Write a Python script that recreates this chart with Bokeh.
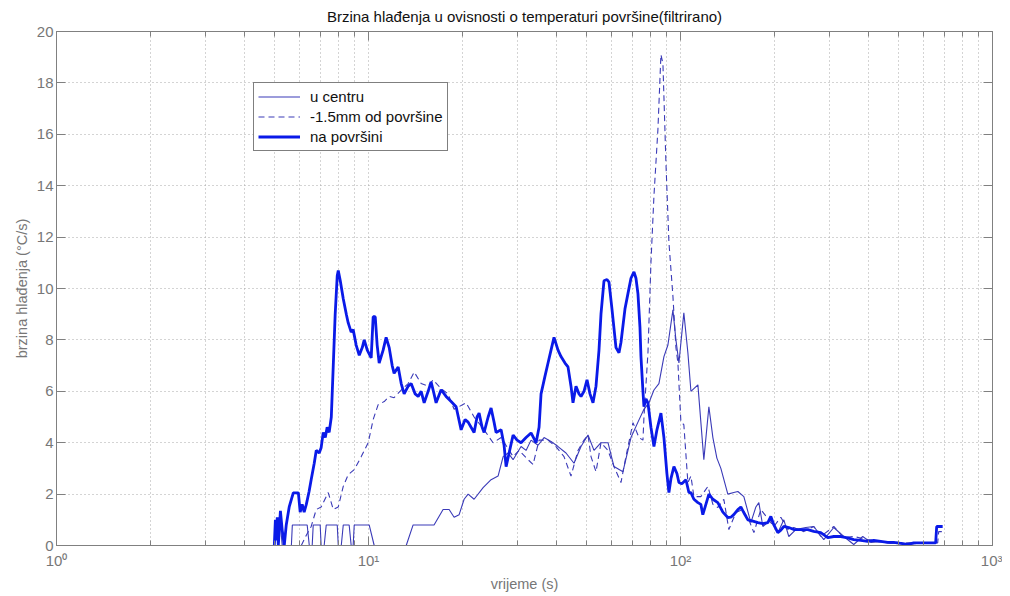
from bokeh.plotting import figure
from bokeh.models import LinearAxis, LogAxis, FixedTicker, Legend, LegendItem, Range1d
from bokeh.embed import file_html
from bokeh.resources import INLINE

title_text = "Brzina hlađenja u ovisnosti o temperaturi površine(filtrirano)"
x_label = "vrijeme (s)"
y_label = "brzina hlađenja (°C/s)"
names = ["u centru", "-1.5mm od površine", "na površini"]

x_major = [1, 10, 100, 1000]
x_major_labels = ["10⁰", "10¹", "10²", "10³"]
x_minor = [2, 3, 4, 5, 6, 7, 8, 9, 20, 30, 40, 50, 60, 70, 80, 90,
           200, 300, 400, 500, 600, 700, 800, 900]
y_ticks = [0, 2, 4, 6, 8, 10, 12, 14, 16, 18, 20]

# u centru (thin solid)
t_centar = [4.99, 5.07, 5.22, 5.29, 5.66, 5.70, 6.36, 6.46, 6.60, 6.65, 7.00, 7.05,
            7.21, 7.32, 7.94, 8.00, 8.18, 8.30, 8.67, 8.80, 8.93, 9.00, 10.05, 10.43,
            13.21, 13.90, 16.22, 17.34, 18.13, 18.81, 19.52, 20.25, 20.86, 21.80, 23.30,
            24.71, 26.02, 27.01, 28.02, 29.07, 30.83, 31.99, 33.19, 34.95, 36.53, 38.46,
            40.50, 42.95, 45.57, 47.99, 50.53, 52.82, 55.61, 58.56, 61.21, 65.40, 69.38,
            73.05, 76.36, 79.22, 82.20, 85.28, 88.49, 91.13, 94.56, 96.68, 98.84, 102.5,
            105.6, 108.0, 113.7, 118.8, 123.3, 127.0, 130.8, 134.7, 141.8, 148.2, 152.7,
            159.6, 168.1, 174.4, 178.3, 183.6, 194.8, 205.1, 214.4, 222.4, 234.2, 252.1,
            267.4, 287.9, 310.0, 333.6, 359.2, 383.8, 407.2, 438.3, 471.8, 507.9, 546.8,
            588.7, 647.9]
v_centar = [0, 0.8, 0.8, 0, 0, 0.8, 0.8, 0, 0, 0.8, 0.8, 0,
            0, 0.8, 0.8, 0, 0, 0.8, 0.8, 0, 0, 0.8, 0.8, 0,
            0, 0.8, 0.8, 1.4, 1.4, 1.1, 1.2, 1.8, 2.0, 1.8, 2.25,
            2.56, 2.7, 3.46, 3.6, 3.34, 3.85, 3.7, 4.1, 3.9, 4.2, 4.05,
            3.85, 3.6, 3.2, 3.85, 4.3, 3.7, 4.0, 4.0, 3.07, 2.87, 4.2,
            4.8, 5.3, 5.55, 6.05, 6.3, 7.35, 7.8, 9.17, 8.0, 7.1, 9.05,
            7.5, 6.0, 6.25, 3.34, 5.4, 4.2, 3.4, 3.0, 2.0, 2.06, 2.1,
            1.9, 0.89, 1.5, 1.67, 0.74, 1.0, 0.5, 1.0, 0.35, 0.62, 0.7,
            0.74, 0.23, 0.7, 0.35, 0.04, 0.35, 0.12, 0.15, 0.08, 0.1, 0.05,
            0.1, 0.08]

# -1.5mm od površine (dashed)
t_15mm = [6.09, 6.32, 6.55, 6.80, 7.05, 7.43, 7.71, 8.00, 8.30, 8.61, 9.00, 9.48, 9.98,
          10.35, 10.74, 11.23, 11.65, 12.08, 12.73, 13.40, 14.01, 14.75, 15.53, 16.11,
          17.09, 17.99, 18.81, 20.55, 21.80, 23.47, 25.08, 26.61, 29.07, 30.38, 32.46,
          33.68, 35.21, 37.62, 39.90, 42.33, 44.57, 46.93, 49.06, 50.53, 51.66, 53.60,
          55.61, 58.56, 61.21, 64.44, 66.86, 70.41, 73.60, 75.80, 76.36, 78.65, 80.40,
          82.20, 84.66, 86.55, 87.84, 89.80, 91.81, 94.56, 96.68, 98.11, 100.3, 102.5,
          105.6, 108.0, 110.4, 116.2, 122.4, 127.0, 131.7, 137.7, 142.9, 150.4, 158.4,
          165.6, 171.9, 180.9, 191.9, 199.2, 209.7, 220.8, 230.7, 248.4, 267.4, 281.6,
          310.0, 333.6, 359.2, 398.2, 438.3, 496.8, 559.0, 633.7, 667.3, 672.2, 692.3]
v_15mm = [0, 0.4, 0.74, 1.4, 1.5, 2.06, 1.4, 1.5, 2.3, 2.76, 2.95, 3.46, 4.0,
          4.9, 5.48, 5.6, 5.8, 5.75, 6.05, 6.3, 6.75, 6.3, 6.2, 6.45,
          6.1, 5.9, 5.3, 5.55, 5.0, 4.5, 4.0, 4.2, 3.46, 3.7, 3.34,
          3.15, 4.1, 4.1, 3.85, 3.46, 2.7, 3.7, 4.1, 4.3, 3.46, 2.87,
          4.0, 3.7, 3.07, 2.45, 3.46, 4.78, 4.2, 4.1, 5.0, 7.5, 11.0,
          13.6, 16.2, 19.1, 18.75, 14.9, 11.8, 9.7, 7.7, 7.1, 4.8, 4.7,
          2.45, 2.7, 1.9, 1.9, 2.3, 1.6, 1.48, 1.8, 0.62, 1.28, 1.4,
          1.0, 0.5, 1.4, 1.0, 0.74, 1.1, 0.62, 0.7, 0.54, 0.74, 0.35,
          0.74, 0.31, 0.35, 0.23, 0.16, 0.12, 0.1, 0.1, 0.1, 0.54, 0.54]

# na površini (thick solid)
t_povrs = [4.99, 5.03, 5.07, 5.10, 5.14, 5.22, 5.29, 5.37, 5.45, 5.57, 5.74, 5.96, 6.04,
           6.13, 6.22, 6.32, 6.45, 6.55, 6.70, 6.80, 6.95, 7.05, 7.16, 7.27, 7.37, 7.48,
           7.60, 7.71, 7.82, 7.94, 8.00, 8.12, 8.30, 8.49, 8.61, 8.80, 8.93, 9.13, 9.34,
           9.55, 9.69, 9.91, 10.20, 10.35, 10.51, 10.66, 10.82, 11.14, 11.39, 11.65, 11.91,
           12.08, 12.45, 12.73, 13.01, 13.40, 13.70, 14.11, 14.43, 14.75, 15.08, 15.53,
           15.87, 16.22, 16.47, 17.09, 17.73, 18.40, 19.09, 19.81, 20.40, 20.86, 21.32,
           21.80, 22.28, 22.62, 23.13, 23.47, 24.18, 24.71, 25.26, 25.64, 26.61, 27.20,
           27.61, 28.23, 29.07, 29.94, 30.83, 31.99, 33.19, 34.44, 35.21, 35.73, 36.80,
           37.62, 38.46, 39.32, 40.50, 41.40, 42.64, 43.59, 44.57, 45.23, 46.24, 47.28,
           47.99, 49.06, 50.16, 51.28, 52.43, 53.60, 54.80, 55.61, 56.85, 58.13, 58.99,
           60.31, 62.12, 63.51, 64.44, 66.37, 67.85, 69.38, 70.93, 71.99, 73.05, 74.14,
           74.69, 75.80, 76.36, 77.49, 78.65, 80.40, 82.20, 84.04, 86.55, 88.49, 90.46,
           91.81, 93.18, 95.26, 97.39, 98.84, 101.0, 104.1, 106.4, 108.0, 110.4, 113.7,
           116.2, 117.9, 120.6, 123.3, 127.0, 131.7, 136.7, 141.8, 145.0, 148.2, 152.7,
           156.1, 160.8, 164.4, 170.6, 177.0, 183.6, 190.5, 194.8, 199.2, 205.1, 209.7,
           214.4, 222.4, 230.7, 243.0, 255.9, 267.4, 281.6, 296.5, 310.0, 326.3, 343.6,
           359.2, 378.2, 398.2, 416.3, 438.3, 461.5, 482.3, 507.9, 534.8, 559.0, 588.7,
           619.9, 647.9, 657.5, 662.4, 692.3]
v_povrs = [0, 1.0, 0.2, 1.1, 0, 1.35, 0.6, 0, 0.8, 1.5, 2.05, 2.05, 1.3,
           1.6, 1.3, 1.6, 2.1, 2.56, 3.2, 3.7, 3.6, 3.8, 4.4, 4.2, 4.6, 4.4,
           5.0, 7.0, 9.0, 10.5, 10.7, 10.3, 9.6, 9.0, 8.66, 8.3, 8.4, 7.8, 7.4,
           7.7, 8.0, 7.6, 7.3, 8.9, 8.9, 7.8, 7.1, 7.6, 8.1, 7.7, 7.0,
           6.7, 6.95, 6.3, 5.9, 6.2, 6.3, 5.9, 5.8, 6.0, 5.55, 6.0,
           6.37, 5.9, 5.55, 6.06, 5.8, 5.6, 5.4, 4.5, 4.9, 4.8, 4.6,
           4.4, 5.0, 5.15, 4.6, 4.4, 5.0, 5.35, 4.8, 4.4, 4.5, 3.9,
           3.07, 3.6, 4.3, 4.1, 4.0, 4.2, 4.38, 4.0, 4.6, 5.9, 6.6,
           7.1, 7.6, 8.1, 7.6, 7.35, 7.1, 6.95, 6.2, 5.55, 6.2, 5.9,
           5.8, 6.0, 6.45, 5.9, 5.55, 6.2, 7.6, 9.0, 10.3, 10.35, 10.25,
           9.2, 7.7, 7.5, 7.9, 9.2, 9.8, 10.4, 10.65, 10.4, 9.8, 8.5,
           7.35, 6.0, 5.4, 5.7, 5.55, 4.6, 3.85, 4.5, 5.15, 4.2, 2.8,
           2.06, 2.6, 3.07, 2.8, 2.45, 2.4, 2.56, 2.06, 2.06, 1.8, 1.67,
           1.6, 1.2, 1.6, 2.0, 1.8, 1.67, 1.3, 1.09, 1.1, 1.2, 1.4,
           1.5, 1.2, 1.0, 0.95, 0.89, 0.85, 0.89, 1.13, 0.8, 0.5, 0.6,
           0.74, 0.7, 0.62, 0.62, 0.62, 0.55, 0.5, 0.31, 0.35, 0.35, 0.3,
           0.23, 0.2, 0.16, 0.2, 0.16, 0.12, 0.12, 0.08, 0.04, 0.1, 0.1,
           0.1, 0.1, 0.1, 0.74, 0.74]

FONT = "Liberation Sans"
GRID = "#a8a8a8"
AXIS = "#808080"
TEXT = "#777777"

p = figure(width=1002, height=594, x_axis_type="log",
           x_range=Range1d(1, 1000), y_range=Range1d(0, 20),
           output_backend="svg", toolbar_location=None,
           min_border_left=56, min_border_right=10,
           min_border_top=31, min_border_bottom=48,
           background_fill_color="white", border_fill_color="white")

p.title.text = title_text
p.title.align = "center"
p.title.vertical_align = "top"
p.title.text_font = FONT
p.title.text_font_size = "15px"
p.title.text_font_style = "normal"
p.title.text_color = "#111111"
p.title.standoff = 10
p.title.offset = 0

p.outline_line_color = AXIS
p.outline_line_width = 1

xt = FixedTicker(ticks=x_major, minor_ticks=x_minor)
yt = FixedTicker(ticks=y_ticks)

def style_axis(ax, labels=True):
    ax.axis_line_color = AXIS
    ax.major_tick_line_color = AXIS
    ax.minor_tick_line_color = AXIS
    ax.major_tick_in = 9
    ax.major_tick_out = 0
    ax.minor_tick_in = 5
    ax.minor_tick_out = 0
    ax.major_label_text_font = FONT
    ax.major_label_text_color = TEXT
    ax.axis_label_text_font = FONT
    ax.axis_label_text_color = TEXT
    ax.axis_label_text_font_style = "normal"
    ax.axis_label_text_font_size = "14.5px"
    if labels:
        ax.major_label_text_font_size = "15px"
        ax.major_label_standoff = 4
    else:
        ax.major_label_text_font_size = "0px"
        ax.major_label_standoff = 0

xa = p.xaxis[0]
xa.ticker = xt
xa.major_label_overrides = {v: s for v, s in zip(x_major, x_major_labels)}
xa.axis_label = x_label
xa.axis_label_standoff = 4
style_axis(xa)
xa.major_label_standoff = 6

ya = p.yaxis[0]
ya.ticker = yt
ya.axis_label = y_label
ya.axis_label_standoff = 4
style_axis(ya)
ya.minor_tick_line_color = None
ya.major_label_standoff = 3

top = LogAxis(ticker=xt)
style_axis(top, labels=False)
top.major_label_overrides = {v: "" for v in x_major}
p.add_layout(top, "above")

right = LinearAxis(ticker=yt)
style_axis(right, labels=False)
right.minor_tick_line_color = None
right.major_label_overrides = {v: "" for v in y_ticks}
p.add_layout(right, "right")

p.xgrid.grid_line_color = GRID
p.xgrid.grid_line_dash = "1 3"
p.xgrid.minor_grid_line_color = GRID
p.xgrid.minor_grid_line_dash = "1 3"
p.ygrid.grid_line_color = GRID
p.ygrid.grid_line_dash = "1 3"

r1 = p.line(t_centar, v_centar, line_color="#3a3ab8", line_width=1.1)
r2 = p.line(t_15mm, v_15mm, line_color="#3a3ab8", line_width=1.1, line_dash="6 4")
r3 = p.line(t_povrs, v_povrs, line_color="#0a1ae8", line_width=2.8)

legend = Legend(items=[LegendItem(label=names[0], renderers=[r1]),
                       LegendItem(label=names[1], renderers=[r2]),
                       LegendItem(label=names[2], renderers=[r3])],
                location=(197, 394))
legend.label_text_font = FONT
legend.label_text_font_size = "15px"
legend.label_text_color = "#111111"
legend.glyph_width = 42
legend.glyph_height = 19
legend.label_height = 19
legend.label_standoff = 10
legend.spacing = 1
legend.padding = 4
legend.margin = 0
legend.border_line_color = "black"
legend.border_line_width = 1
legend.background_fill_color = "white"
legend.background_fill_alpha = 1
p.add_layout(legend)

open("out.html", "w").write(file_html(p, INLINE))
